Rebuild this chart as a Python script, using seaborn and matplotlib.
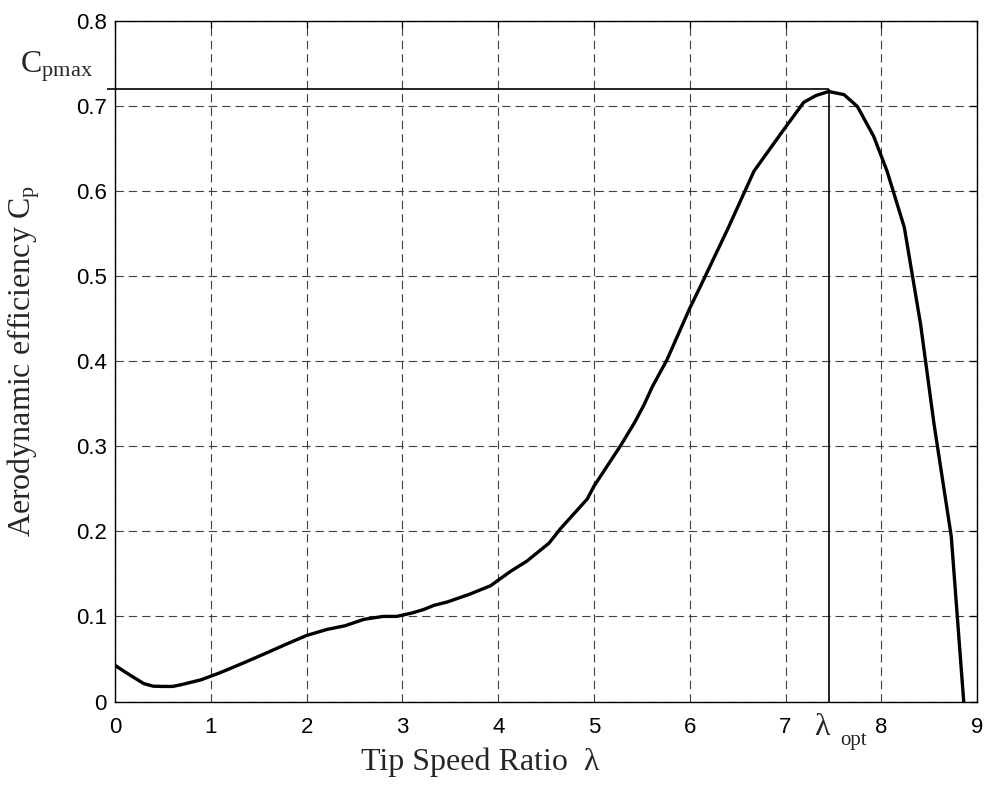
import numpy as np
import pandas as pd
import matplotlib
matplotlib.use("Agg")
import matplotlib.pyplot as plt
import seaborn as sns

# Cp - lambda curve
tsr = [0.0, 0.1, 0.2, 0.3, 0.4, 0.5, 0.6, 0.7, 0.9, 1.1, 1.34, 1.6, 1.8, 2.0,
       2.21, 2.4, 2.6, 2.8, 2.94, 3.1, 3.22, 3.33, 3.47, 3.7, 3.92, 4.13, 4.3,
       4.53, 4.65, 4.93, 5.0, 5.28, 5.42, 5.52, 5.61, 5.76, 6.0, 6.11, 6.4,
       6.67, 6.95, 7.19, 7.32, 7.45, 7.61, 7.75, 7.92, 8.06, 8.24, 8.41, 8.55,
       8.73, 8.86]
cp = [0.0425, 0.035, 0.028, 0.021, 0.018, 0.0177, 0.0177, 0.020, 0.0256,
      0.034, 0.0453, 0.058, 0.068, 0.0776, 0.0846, 0.089, 0.0966, 0.1, 0.1,
      0.104, 0.108, 0.113, 0.117, 0.126, 0.136, 0.153, 0.165, 0.186, 0.203,
      0.238, 0.253, 0.301, 0.327, 0.348, 0.370, 0.401, 0.462, 0.4875, 0.556,
      0.623, 0.667, 0.704, 0.712, 0.7166, 0.713, 0.699, 0.664, 0.623, 0.557,
      0.443, 0.326, 0.194, 0.0]

lam_opt = 7.45
cp_max = 0.72

xticks = [0, 1, 2, 3, 4, 5, 6, 7, 8, 9]
yticks = [0, 0.1, 0.2, 0.3, 0.4, 0.5, 0.6, 0.7, 0.8]

df = pd.DataFrame({"tsr": tsr, "cp": cp})

sns.set_style("white")
plt.rcParams["font.family"] = ["Liberation Sans", "DejaVu Sans"]
plt.rcParams["mathtext.fontset"] = "custom"
plt.rcParams["mathtext.rm"] = "Liberation Serif"
plt.rcParams["mathtext.it"] = "Liberation Serif"
plt.rcParams["lines.scale_dashes"] = False

fig = plt.figure(figsize=(9.92, 7.90), dpi=100)
ax = fig.add_axes([0.116, 0.112, 0.869, 0.862])

sns.lineplot(data=df, x="tsr", y="cp", color="k", linewidth=2.4, ax=ax,
             zorder=5)

# optimum markers
ax.hlines(cp_max, -0.08, lam_opt, color="k", linewidth=1.2, clip_on=False,
          zorder=4)
ax.vlines(lam_opt, 0, cp_max, color="k", linewidth=1.2, zorder=4)

ax.set_xlim(0, 9)
ax.set_ylim(0, 0.8)
ax.set_xticks(xticks)
ax.set_yticks(yticks)
ax.set_xticklabels([str(t) for t in xticks])
ax.set_yticklabels(["0"] + [f"{t:.1f}" for t in yticks[1:]])

ax.grid(True, color="0.25", linestyle=(0, (6, 3.6)), linewidth=0.8)
for s in ax.spines.values():
    s.set_color("k")
    s.set_linewidth(1.0)

ax.tick_params(direction="in", length=5, width=0.9, top=True, right=True,
               labelsize=16, colors="k")
ax.tick_params(axis="x", pad=11)
ax.tick_params(axis="y", pad=6)

serif = ["Liberation Serif", "DejaVu Serif"]
ax.set_xlabel("Tip Speed Ratio  \u03bb", fontsize=23, family=serif)
ax.set_ylabel(r"Aerodynamic efficiency C$_\mathrm{p}$", fontsize=23,
              family=serif)
ax.xaxis.set_label_coords(0.423, -0.068)
ax.yaxis.set_label_coords(-0.085, 0.5)

ax.text(-0.026, 0.7388, r"C$_\mathrm{pmax}$", transform=ax.get_yaxis_transform(),
        ha="right", va="baseline", fontsize=23, family=serif)
ax.text(7.38, -0.049, "\u03bb", transform=ax.get_xaxis_transform(),
        ha="center", va="baseline", fontsize=23, family=serif)
ax.text(7.71, -0.064, "opt", transform=ax.get_xaxis_transform(),
        ha="center", va="baseline", fontsize=15, family=serif)

fig.savefig("out.png", dpi=100)
